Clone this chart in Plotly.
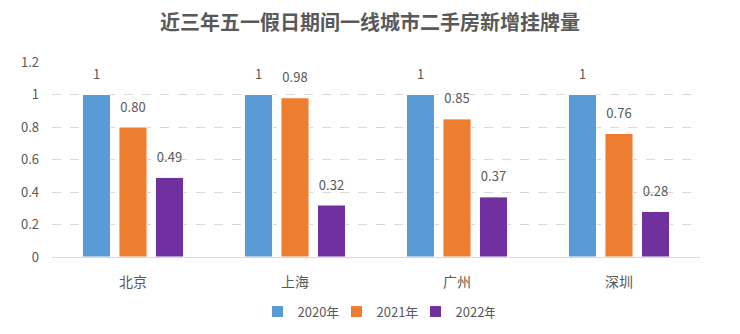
import plotly.graph_objects as go

categories = ["北京", "上海", "广州", "深圳"]
series_names = ["2020年", "2021年", "2022年"]
v2020 = [1, 1, 1, 1]
v2021 = [0.80, 0.98, 0.85, 0.76]
v2022 = [0.49, 0.32, 0.37, 0.28]
labels2020 = ["1", "1", "1", "1"]
labels2021 = ["0.80", "0.98", "0.85", "0.76"]
labels2022 = ["0.49", "0.32", "0.37", "0.28"]
colors = ["#5B9BD5", "#ED7D31", "#7030A0"]

font_family = "Noto Sans CJK SC, Noto Sans, sans-serif"
fig = go.Figure()
for name, vals, c in zip(series_names, [v2020, v2021, v2022], colors):
    fig.add_trace(go.Bar(
        x=categories, y=vals, name=name, offsetgroup=name,
        marker=dict(color=c, line=dict(color="white", width=1)),
    ))
# data labels, placed above each bar via grouped scatter points
for name, vals, labs in zip(series_names, [v2020, v2021, v2022],
                            [labels2020, labels2021, labels2022]):
    fig.add_trace(go.Scatter(
        x=categories, y=vals, text=labs, mode="markers+text", offsetgroup=name,
        textposition="top center", showlegend=False, hoverinfo="skip",
        marker=dict(size=18, opacity=0),
        textfont=dict(size=13, color="#595959", family=font_family),
        cliponaxis=False,
    ))

fig.update_layout(
    width=740, height=334,
    margin=dict(l=52, r=40, t=62, b=77, autoexpand=False),
    paper_bgcolor="white", plot_bgcolor="white",
    title=dict(text="<b>近三年五一假日期间一线城市二手房新增挂牌量</b>", x=0.5, xanchor="center",
               y=0.93, yanchor="middle",
               font=dict(size=20, color="#595959", family=font_family)),
    barmode="group", bargap=0.324, bargroupgap=0.23,
    scattermode="group", scattergap=0.324,
    font=dict(family=font_family, color="#595959", size=13),
    legend=dict(orientation="h", x=0.5, xanchor="center", y=-0.28, yanchor="middle",
                font=dict(size=13, color="#595959"), itemwidth=30,
                entrywidth=34, entrywidthmode="pixels"),
    xaxis=dict(showline=True, linecolor="#D9D9D9", linewidth=1, ticks="",
               ticklabelstandoff=12,
               tickfont=dict(size=14, color="#595959")),
    yaxis=dict(range=[0, 1.2], tickvals=[0, 0.2, 0.4, 0.6, 0.8, 1, 1.2],
               ticktext=["0", "0.2", "0.4", "0.6", "0.8", "1", "1.2"],
               showgrid=True, gridcolor="#D9D9D9", griddash="dash", gridwidth=1,
               zeroline=False, ticks="", ticklabelstandoff=12,
               tickfont=dict(size=13, color="#595959")),
)
fig.write_html("out.html")
